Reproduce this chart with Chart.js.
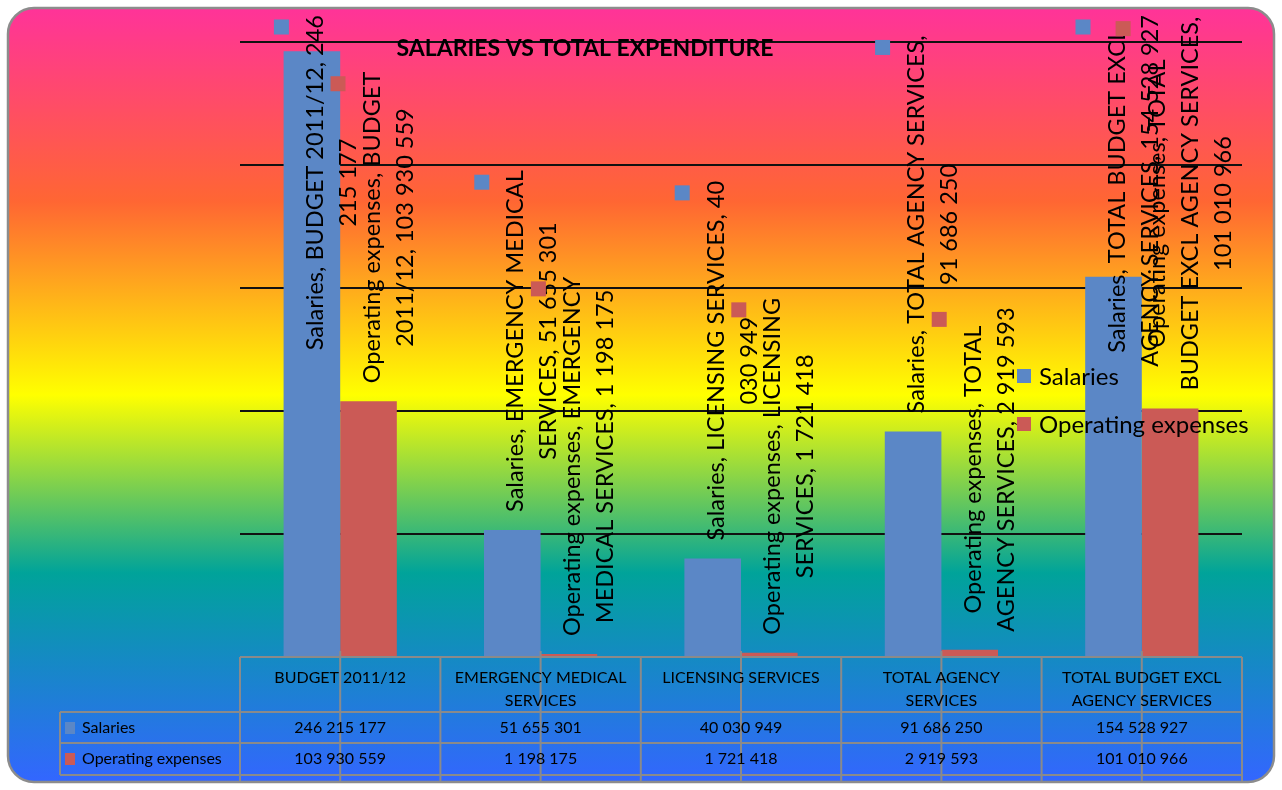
<!DOCTYPE html>
<html>
<head>
<meta charset="utf-8">
<script src="https://cdn.jsdelivr.net/npm/chart.js@4/dist/chart.umd.min.js"></script>
<style>
  html, body { margin: 0; padding: 0; background: #ffffff; }
  #wrap { width: 1282px; height: 790px; }
</style>
</head>
<body>
<div id="wrap"><canvas id="chart" width="1282" height="790"></canvas></div>
<script>
// ---- data ----
const categories = [
  'BUDGET 2011/12',
  'EMERGENCY MEDICAL SERVICES',
  'LICENSING SERVICES',
  'TOTAL AGENCY SERVICES',
  'TOTAL BUDGET EXCL AGENCY SERVICES'
];
const seriesNames = ['Salaries', 'Operating expenses'];
const salaries = [246215177, 51655301, 40030949, 91686250, 154528927];
const operatingExpenses = [103930559, 1198175, 1721418, 2919593, 101010966];
const yMax = 250000000;
const yStep = 50000000;
const chartTitle = 'SALARIES VS TOTAL EXPENDITURE';

const seriesColors = ['#5b87c6', '#cb5a56'];
const FONT = 'Lato, "Open Sans", "Liberation Sans", sans-serif';

function fmt(n) {
  return String(n).replace(/\B(?=(\d{3})+(?!\d))/g, ' ');
}

// greedy word wrap for the data-table header cells
function wrapWords(ctx, text, maxW) {
  const words = text.split(' ');
  const lines = [];
  let cur = '';
  for (const w of words) {
    const t = cur ? cur + ' ' + w : w;
    if (cur && ctx.measureText(t).width > maxW) { lines.push(cur); cur = w; }
    else cur = t;
  }
  if (cur) lines.push(cur);
  return lines;
}

// rounded panel with a vertical rainbow gradient behind everything
const panelBackground = {
  id: 'panelBackground',
  beforeDraw(chart) {
    const ctx = chart.ctx;
    const W = chart.width, H = chart.height;
    ctx.save();
    ctx.fillStyle = '#ffffff';
    ctx.fillRect(0, 0, W, H);
    const x = 8, y = 8, w = W - 16, h = H - 16, r = 26;
    ctx.beginPath();
    ctx.moveTo(x + r, y);
    ctx.lineTo(x + w - r, y);
    ctx.arcTo(x + w, y, x + w, y + r, r);
    ctx.lineTo(x + w, y + h - r);
    ctx.arcTo(x + w, y + h, x + w - r, y + h, r);
    ctx.lineTo(x + r, y + h);
    ctx.arcTo(x, y + h, x, y + h - r, r);
    ctx.lineTo(x, y + r);
    ctx.arcTo(x, y, x + r, y, r);
    ctx.closePath();
    const g = ctx.createLinearGradient(0, y, 0, y + h);
    g.addColorStop(0.00, '#ff3399');
    g.addColorStop(0.25, '#ff6633');
    g.addColorStop(0.50, '#ffff00');
    g.addColorStop(0.73, '#00a39a');
    g.addColorStop(1.00, '#3366ff');
    ctx.fillStyle = g;
    ctx.fill();
    ctx.lineWidth = 2.5;
    ctx.strokeStyle = '#8c8c8c';
    ctx.stroke();
    ctx.restore();
  }
};

// title, legend, data table and rotated value labels
const decorations = {
  id: 'decorations',
  afterDatasetsDraw(chart, args, opts) {
    const ctx = chart.ctx;
    const area = chart.chartArea;
    const xs = chart.scales.x;
    ctx.save();

    // title
    ctx.fillStyle = '#000';
    ctx.font = 'bold 23px ' + FONT;
    ctx.textAlign = 'center';
    ctx.textBaseline = 'middle';
    ctx.fillText(chartTitle, 585, 49);

    // legend
    ctx.font = '24px ' + FONT;
    ctx.textAlign = 'left';
    seriesNames.forEach((name, i) => {
      const ly = 376 + i * 48;
      ctx.fillStyle = seriesColors[i];
      ctx.fillRect(1017, ly - 7, 14, 14);
      ctx.fillStyle = '#000';
      ctx.fillText(name, 1039, ly + 1);
    });

    // data table
    const colW = (area.right - area.left) / categories.length;
    const top = area.bottom, r1 = top + 55, r2 = r1 + 31, r3 = r2 + 32;
    const leftX = 60;
    ctx.strokeStyle = '#8a8a8a';
    ctx.lineWidth = 2;
    ctx.beginPath();
    ctx.moveTo(area.left, top); ctx.lineTo(area.right, top);
    [r1, r2, r3].forEach(yy => { ctx.moveTo(leftX, yy); ctx.lineTo(area.right, yy); });
    ctx.moveTo(leftX, r1); ctx.lineTo(leftX, r3);
    for (let i = 0; i <= categories.length; i++) {
      const xx = area.left + i * colW;
      ctx.moveTo(xx, top); ctx.lineTo(xx, r3 + 6);
    }
    categories.forEach((c, i) => {
      const xx = xs.getPixelForValue(i);
      ctx.moveTo(xx, top - 6); ctx.lineTo(xx, r3 + 6);
    });
    ctx.stroke();

    ctx.fillStyle = '#000';
    ctx.font = '16px ' + FONT;
    ctx.textAlign = 'center';
    categories.forEach((c, i) => {
      const cx = area.left + (i + 0.5) * colW;
      const lines = wrapWords(ctx, c, colW - 14);
      lines.forEach((ln, k) => ctx.fillText(ln, cx, top + 21 + k * 23));
      ctx.fillText(fmt(salaries[i]), cx, r1 + 16);
      ctx.fillText(fmt(operatingExpenses[i]), cx, r2 + 16);
    });
    ctx.textAlign = 'left';
    [r1, r2].forEach((yy, i) => {
      ctx.fillStyle = seriesColors[i];
      ctx.fillRect(65, yy + 10, 10, 12);
      ctx.fillStyle = '#000';
      ctx.fillText(seriesNames[i], 82, yy + 16);
    });

    // rotated value labels with legend keys, placed just above each bar
    const lineGap = 33;
    ctx.font = opts.labelFont;
    chart.data.datasets.forEach((ds, di) => {
      const meta = chart.getDatasetMeta(di);
      meta.data.forEach((bar, j) => {
        const text = `${ds.label}, ${categories[j]}, ${fmt(ds.data[j])}`;
        const words = text.split(' ');
        const lines = [];
        let p = 0;
        opts.wordsPerLine[di][j].forEach(n => { lines.push(words.slice(p, p + n).join(' ')); p += n; });
        const len = Math.max(...lines.map(l => ctx.measureText(l).width));
        let bottom = bar.y - 18;
        if (bottom - len < opts.topLimit) bottom = opts.topLimit + len;
        const cy = bottom - len / 2;
        const blockCx = bar.x + 20;
        const firstX = blockCx - (lines.length - 1) * lineGap / 2;
        lines.forEach((ln, k) => {
          ctx.save();
          ctx.translate(firstX + k * lineGap, cy);
          ctx.rotate(-Math.PI / 2);
          ctx.fillStyle = '#000';
          ctx.textAlign = 'center';
          ctx.textBaseline = 'middle';
          ctx.fillText(ln, 0, 0);
          ctx.restore();
        });
        ctx.fillStyle = seriesColors[di];
        ctx.fillRect(firstX - 34 - 7.5, bottom - len + 12 - 7.5, 15, 15);
      });
    });
    ctx.restore();
  }
};

new Chart(document.getElementById('chart'), {
  type: 'bar',
  data: {
    labels: categories,
    datasets: [
      { label: seriesNames[0], data: salaries, backgroundColor: seriesColors[0], borderWidth: 0 },
      { label: seriesNames[1], data: operatingExpenses, backgroundColor: seriesColors[1], borderWidth: 0 }
    ]
  },
  options: {
    responsive: false,
    animation: false,
    devicePixelRatio: 1,
    layout: { padding: { left: 240, right: 40, top: 42, bottom: 133 } },
    datasets: { bar: { categoryPercentage: 0.565, barPercentage: 1.0 } },
    scales: {
      x: { display: false },
      y: {
        min: 0, max: yMax,
        ticks: { display: false, stepSize: yStep },
        grid: {
          drawTicks: false,
          lineWidth: 2,
          color: c => (c.tick && c.tick.value === 0) ? 'rgba(0,0,0,0)' : '#111111'
        },
        border: { display: false }
      }
    },
    plugins: {
      legend: { display: false },
      title: { display: false },
      tooltip: { enabled: false },
      decorations: {
        labelFont: '23.5px ' + FONT,
        topLimit: 15,
        wordsPerLine: [
          [[4, 2], [3, 4], [4, 2], [4, 3], [4, 5]],
          [[3, 4], [3, 5], [3, 4], [3, 5], [3, 4, 3]]
        ]
      }
    }
  },
  plugins: [panelBackground, decorations]
});
</script>
</body>
</html>
